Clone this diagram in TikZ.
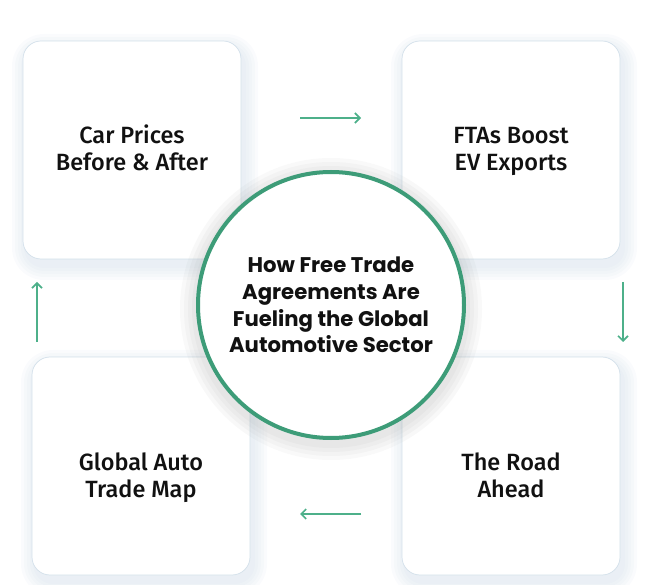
\documentclass[tikz,border=0pt]{standalone}
\usepackage{fontspec}
\setmainfont{Fira Sans}
\newfontfamily\cardfont{Fira Sans}[UprightFont={* Medium}]
\newfontfamily\circfont{Poppins}
\usetikzlibrary{arrows.meta}
\definecolor{ringgreen}{HTML}{3D9C78}
\definecolor{arrgreen}{HTML}{4DB08A}
\definecolor{boxline}{HTML}{D3E0EA}
\definecolor{shadowc}{HTML}{B9CCDD}
\definecolor{txt}{HTML}{111111}
\tikzset{
  card/.style={rectangle, rounded corners=18pt, minimum width=218pt, minimum height=218pt,
    draw=boxline, line width=0.7pt, fill=white, inner sep=0pt},
  cardtext/.style={anchor=base, align=center, text=txt, inner sep=0pt,
    font=\cardfont\fontsize{23.5}{27}\selectfont},
  hub/.style={circle, minimum size=266pt, draw=ringgreen, line width=4pt, fill=white,
    align=center, text=txt, font=\circfont\bfseries\fontsize{21.2}{26.7}\selectfont, inner sep=0pt},
  flow/.style={draw=arrgreen, line width=1.6pt, -{Straight Barb[length=5pt,width=10pt,line width=1.6pt]}}
}
\begin{document}
\begin{tikzpicture}[x=1pt,y=-1pt]
\useasboundingbox (0,0) rectangle (659,585);
% card shadows
\foreach \cx/\cy in {132/150, 511/150, 141/466, 511/466}{
  \foreach \s in {14,11,8,5,2}{
    \fill[shadowc, opacity=0.07, rounded corners=18pt+\s pt]
      (\cx-109-\s+3, \cy-109-\s+7) rectangle (\cx+109+\s+3, \cy+109+\s+7);
  }
}
\node[card] (tl) at (132,150) {};
\node[card] (tr) at (511,150) {};
\node[card] (bl) at (141,466) {};
\node[card] (br) at (511,466) {};
\node[cardtext] (tltxt) at (132,171) {Car Prices\\Before \& After};
\node[cardtext] (trtxt) at (511,171) {FTAs Boost\\EV Exports};
\node[cardtext] (bltxt) at (141,497) {Global Auto\\Trade Map};
\node[cardtext] (brtxt) at (511,497) {The Road\\Ahead};
% arrows
\coordinate (r1) at (300,118); \coordinate (r2) at (361,118);
\coordinate (d1) at (623,282); \coordinate (d2) at (623,342);
\coordinate (l1) at (361,514); \coordinate (l2) at (300,514);
\coordinate (u1) at (37,342); \coordinate (u2) at (37,282);
\draw[flow] (r1) -- (r2);
\draw[flow] (d1) -- (d2);
\draw[flow] (l1) -- (l2);
\draw[flow] (u1) -- (u2);
% hub shadow
\foreach \s in {16,12,8,4}{
  \fill[gray, opacity=0.05] (331,309) circle (135+\s);
}
\node[hub] (hub) at (331,305) {How Free Trade\\Agreements Are\\Fueling the Global\\Automotive Sector};
\end{tikzpicture}
\end{document}
